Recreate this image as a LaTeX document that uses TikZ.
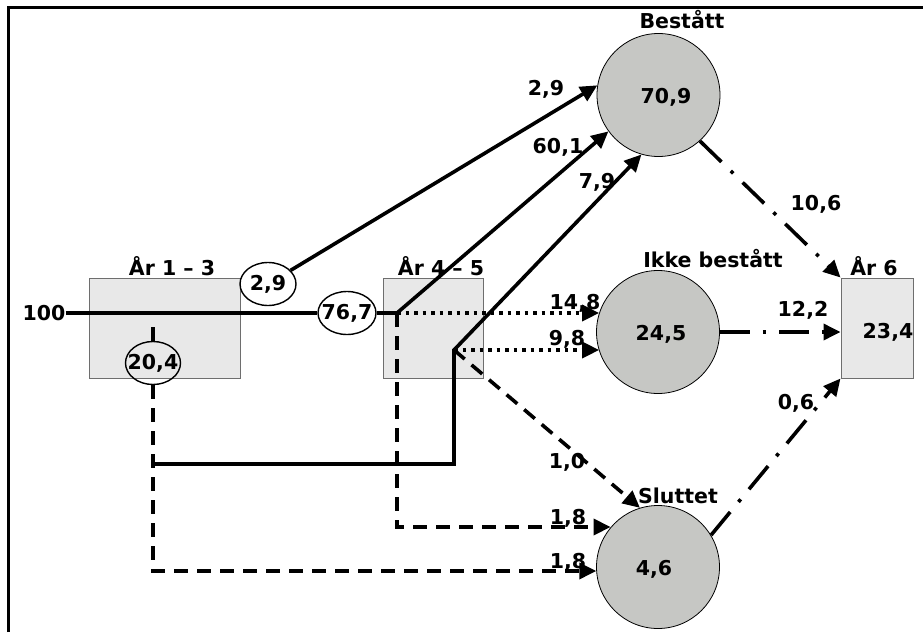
\documentclass[tikz,border=0pt]{standalone}
\usepackage{fontspec}
\setmainfont{DejaVu Sans}
\usetikzlibrary{arrows.meta,shapes.geometric,calc}
\definecolor{circfill}{RGB}{198,199,196}
\definecolor{boxfill}{RGB}{232,232,232}
\definecolor{boxline}{RGB}{110,110,110}
\begin{document}
\begin{tikzpicture}[x=1pt,y=-1pt,
  every node/.style={font=\fontsize{20.5}{22}\selectfont\bfseries, inner sep=0pt},
  stage/.style={draw=boxline, line width=1pt, fill=boxfill, rectangle},
  state/.style={draw=black, line width=0.8pt, fill=circfill, circle, minimum size=123pt},
  flowval/.style={draw=black, line width=1.4pt, ellipse, minimum width=56pt, minimum height=43pt},
  flow/.style={line width=3.6pt},
  arr/.style={-{Triangle[length=17pt,width=16pt]}},
  dashedflow/.style={flow, dash pattern=on 14pt off 9pt},
  dottedflow/.style={flow, dash pattern=on 3.5pt off 5pt},
  dashdotflow/.style={flow, dash pattern=on 30pt off 13pt on 3.5pt off 13pt}
]
\useasboundingbox (0,0) rectangle (923,632);
% frame
\coordinate (fbl) at (8.5,632);
\coordinate (ftl) at (8.5,7.5);
\coordinate (ftr) at (923,7.5);
\draw[line width=3.2pt] (fbl) -- (ftl) -- (ftr);

% boxes
\node[stage, minimum width=151pt, minimum height=100pt] (ar13) at (164.5,328) {};
\node[stage, minimum width=100pt, minimum height=100pt] (ar45) at (433,328) {};
\node[stage, minimum width=72pt, minimum height=100pt] (ar6) at (877,328) {};
\node (t13) at (172,266) {År 1 – 3};
\node (t45) at (441,266) {År 4 – 5};
\node (t6) at (874,266) {År 6};
\node (v6) at (888,332) {23,4};

% circles
\node[state] (bes) at (658.5,95) {};
\node (vbes) at (666,97) {70,9};
\node (tbes) at (682,20) {Bestått};
\node[state] (ikke) at (658,332) {};
\node (vikke) at (661,334) {24,5};
\node (tikke) at (713,259) {Ikke bestått};
\node[state] (slut) at (658,567) {};
\node (vslut) at (654,569) {4,6};
\node (tslut) at (678,496) {Sluttet};

% flow value ellipses
\node[flowval, label={center:{2,9}}] (e29) at (268,284) {};
\node[flowval, minimum width=55pt, label={center:{20,4}}] (e204) at (153,363) {};
\node[flowval, minimum width=58pt, label={center:{76,7}}] (e767) at (347,313) {};
\node (n100) at (44,313) {100};

% junctions
\coordinate (j1) at (397,313);
\coordinate (j2) at (454,350);
\coordinate (k1) at (397,527);
\coordinate (s1) at (153,327);
\coordinate (h1) at (153,464);
\coordinate (h2) at (454,464);
\coordinate (d1) at (153,571);

% connectors
\draw[flow] (n100) -- (e767);
\draw[flow] (e767) -- (j1);
\draw[flow,arr] (e29) -- (bes.171);
\draw[flow,arr] (j1) -- (bes.216);
\draw[dottedflow,arr] (j1) -- (j1 -| ikke.162);
\draw[dashedflow,arr] (j1) -- (k1) -- (k1 -| slut.140);
\draw[flow] (s1) -- (e204);
\draw[dashedflow,arr] (e204) -- (d1) -- (d1 -| slut.184);
\draw[flow,arr] (h1) -- (h2) -- (j2) -- (bes.254);
\draw[dottedflow,arr] (j2) -- (j2 -| ikke.198);
\draw[dashedflow,arr] (j2) -- (slut.107);
\draw[dashdotflow,arr] (bes.-48) -- (ar6.north west);
\draw[dashdotflow,arr] (ikke.east) -- (ikke.east -| ar6.west);
\draw[dashdotflow,arr] (slut.31) -- (ar6.south west);

% connector labels
\node (l29) at (546,89) {2,9};
\node (l601) at (558,147) {60,1};
\node (l79) at (597,182) {7,9};
\node (l148) at (575,303) {14,8};
\node (l98) at (567,339) {9,8};
\node (l10) at (567,462) {1,0};
\node (l18a) at (568,518) {1,8};
\node (l18b) at (568,562) {1,8};
\node (l106) at (816,204) {10,6};
\node (l122) at (803,310) {12,2};
\node (l06) at (796,403) {0,6};
\end{tikzpicture}
\end{document}
